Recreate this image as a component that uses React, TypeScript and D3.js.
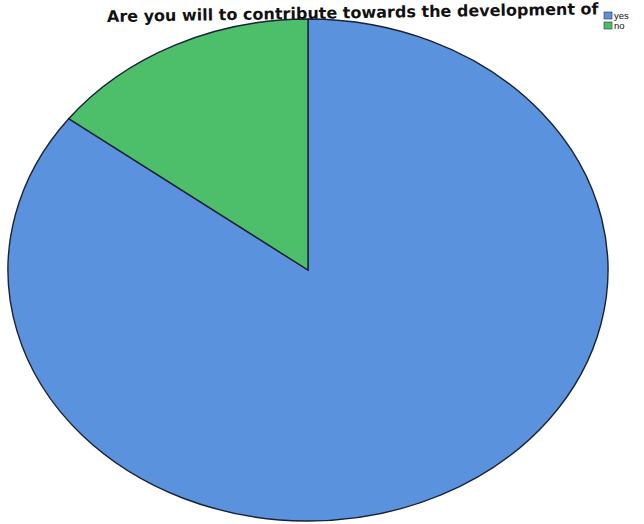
import React from "react";
import * as d3 from "d3";

const categories = ["yes", "no"];
const values = [85.3, 14.7];
const colors = ["#5a92de", "#4dbf6b"];
const title = "Are you will to contribute towards the development of";

export default function App() {
  const W = 644, H = 524;
  const cx = 308, cy = 270, rx = 300, ry = 251;
  const r = ry;
  const data = categories.map((c, i) => ({ c, v: values[i] }));
  const pie = d3.pie<{ c: string; v: number }>().value(d => d.v).sort(null);
  const arcs = pie(data);
  const arc = d3.arc<d3.PieArcDatum<{ c: string; v: number }>>().innerRadius(0).outerRadius(r);
  return (
    <svg width={W} height={H} style={{ position: "absolute", left: 0, top: 0, background: "#fff" }}>
      <g transform={`translate(${cx},${cy}) scale(${rx / r},1)`}>
        {arcs.map((a, i) => (
          <path key={i} d={arc(a) || ""} fill={colors[i]} stroke="#1a2233" strokeWidth={1.4}
            vectorEffect="non-scaling-stroke" />
        ))}
      </g>
      <text x={107} y={22} transform="rotate(-0.9 107 22)" fontFamily="DejaVu Sans, sans-serif"
        fontWeight="bold" fontSize={16} fill="#111">{title}</text>
      {categories.map((c, i) => (
        <g key={c} transform={`translate(604,${12 + i * 10})`}>
          <rect width={8} height={7} fill={colors[i]} stroke="#333" strokeWidth={0.6} />
          <text x={10} y={7} fontFamily="Liberation Sans, Arial, sans-serif" fontSize={9.5} fill="#111">{c}</text>
        </g>
      ))}
    </svg>
  );
}
